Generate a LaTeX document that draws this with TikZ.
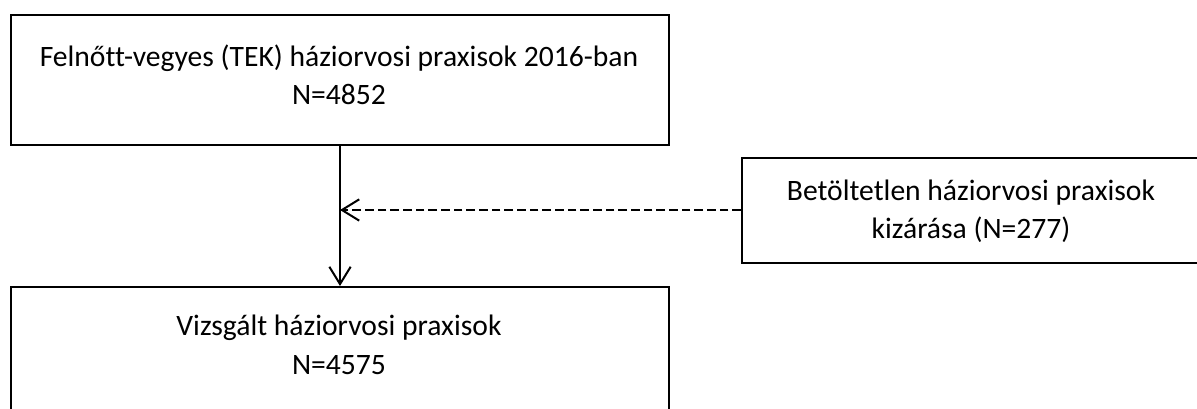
\documentclass[tikz,border=0pt]{standalone}
\usepackage{fontspec}
\setmainfont[Ligatures=NoCommon]{Carlito}
\usetikzlibrary{arrows.meta}
\tikzset{
  box/.style={draw=black, line width=1.5pt, rectangle, inner sep=0pt, anchor=north west},
  lbl/.style={anchor=base, inner sep=0pt, font=\fontsize{22.2pt}{26pt}\selectfont},
  conn/.style={line width=1.5pt, -{Straight Barb[length=13pt,width=16pt,line width=1.5pt]}},
}
\begin{document}
\begin{tikzpicture}[x=0.75pt,y=-0.75pt]
\useasboundingbox (0,0) rectangle (1197,409);
\clip (0,0) rectangle (1197,409);
\node[box, minimum width=658*0.75pt, minimum height=130*0.75pt] (top) at (10,14) {};
\node[box, minimum width=462*0.75pt, minimum height=105*0.75pt] (right) at (741,157) {};
\node[box, minimum width=658*0.75pt, minimum height=160*0.75pt] (bot) at (10,286) {};
\node[lbl] (t1) at (339,67) {Felnőtt-vegyes (TEK) háziorvosi praxisok 2016-ban};
\node[lbl] (t2) at (339,105) {N=4852};
\node[lbl] (r1) at (971,201) {Betöltetlen háziorvosi praxisok};
\node[lbl] (r2) at (971,239) {kizárása (N=277)};
\node[lbl] (b1) at (339,336) {Vizsgált háziorvosi praxisok};
\node[lbl] (b2) at (339,375) {N=4575};
\coordinate (vtop) at (top.south -| 340,0);
\coordinate (vbot) at (bot.north -| 340,0);
\coordinate (mid) at (340,210);
\draw[conn] (vtop) -- (vbot);
\draw[conn, dash pattern=on 6.5pt off 3pt] (right.west |- mid) -- (mid);
\end{tikzpicture}
\end{document}
